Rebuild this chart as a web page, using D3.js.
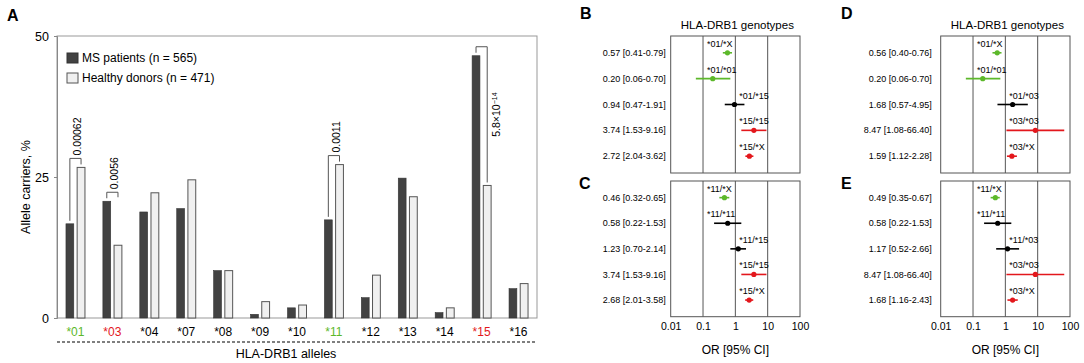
<!DOCTYPE html>
<html>
<head>
<meta charset="utf-8">
<script src="https://cdn.jsdelivr.net/npm/d3@7"></script>
<style>
  body { margin: 0; background: #fff; }
  svg { font-family: "Liberation Sans", Arial, sans-serif; }
</style>
</head>
<body>
<svg id="chart" width="1084" height="363"></svg>
<script>
// ---- panel A data ----
const alleles = ["*01", "*03", "*04", "*07", "*08", "*09", "*10", "*11", "*12", "*13", "*14", "*15", "*16"];
const msPatients = [16.7, 20.7, 18.8, 19.4, 8.4, 0.65, 1.8, 17.4, 3.6, 24.8, 0.95, 46.5, 5.2];
const healthyDonors = [26.7, 12.9, 22.2, 24.5, 8.4, 2.9, 2.3, 27.2, 7.6, 21.5, 1.8, 23.5, 6.1];
const protectiveAlleles = ["*01", "*11"];
const riskAlleles = ["*03", "*15"];
const yTicks = [0, 25, 50];
const pAlleles = ["*01", "*03", "*11", "*15"];
const pValues = ["0.00062", "0.0056", "0.0011", "5.8×10|-14"];

// ---- panels B-E data ----
const genoB = ["*01/*X", "*01/*01", "*01/*15", "*15/*15", "*15/*X"];
const orB = [0.57, 0.20, 0.94, 3.74, 2.72];
const loB = [0.41, 0.06, 0.47, 1.53, 2.04];
const hiB = [0.79, 0.70, 1.91, 9.16, 3.62];
const effB = ["protective", "protective", "neutral", "risk", "risk"];

const genoC = ["*11/*X", "*11/*11", "*11/*15", "*15/*15", "*15/*X"];
const orC = [0.46, 0.58, 1.23, 3.74, 2.68];
const loC = [0.32, 0.22, 0.70, 1.53, 2.01];
const hiC = [0.65, 1.53, 2.14, 9.16, 3.58];
const effC = ["protective", "neutral", "neutral", "risk", "risk"];

const genoD = ["*01/*X", "*01/*01", "*01/*03", "*03/*03", "*03/*X"];
const orD = [0.56, 0.20, 1.68, 8.47, 1.59];
const loD = [0.40, 0.06, 0.57, 1.08, 1.12];
const hiD = [0.76, 0.70, 4.95, 66.40, 2.28];
const effD = ["protective", "protective", "neutral", "risk", "risk"];

const genoE = ["*11/*X", "*11/*11", "*11/*03", "*03/*03", "*03/*X"];
const orE = [0.49, 0.58, 1.17, 8.47, 1.68];
const loE = [0.35, 0.22, 0.52, 1.08, 1.16];
const hiE = [0.67, 1.53, 2.66, 66.40, 2.43];
const effE = ["protective", "neutral", "neutral", "risk", "risk"];

const orTicks = [0.01, 0.1, 1, 10, 100];

const green = "#5cb82a", red = "#e3171c";
const effColor = { protective: green, risk: red, neutral: "#000" };

const svg = d3.select("#chart");

// ================= Panel A =================
const A = { left: 57, right: 537, top: 36, bottom: 318 };

const x0 = d3.scaleBand().domain(alleles).range([A.left, A.right]);
const x1 = d3.scaleBand().domain(["ms", "hd"])
    .range([x0.bandwidth() / 2 - 9.5, x0.bandwidth() / 2 + 9.5])
    .paddingInner(0.3);
const y = d3.scaleLinear().domain([0, 50]).range([A.bottom, A.top]);

svg.append("text").attr("x", 7).attr("y", 21)
    .style("font-size", "16px").style("font-weight", "bold").text("A");

// frame
svg.append("rect")
    .attr("x", A.left).attr("y", A.top)
    .attr("width", A.right - A.left).attr("height", A.bottom - A.top)
    .attr("fill", "none").attr("stroke", "#999").attr("stroke-width", 1);

// y axis
let yAxis = svg.append("g")
    .attr("transform", "translate(" + A.left + ",0)")
    .call(d3.axisLeft(y).tickValues(yTicks).tickSize(3).tickPadding(5));
yAxis.select(".domain").attr("stroke", "#888");
yAxis.selectAll(".tick line").attr("stroke", "#888");
yAxis.selectAll("text").style("font-size", "12.5px").attr("fill", "#000");

svg.append("text")
    .attr("transform", "translate(30," + ((A.top + A.bottom) / 2 + 10) + ") rotate(-90)")
    .attr("text-anchor", "middle")
    .style("font-size", "12.5px")
    .text("Allele carriers, %");

// bars
let groups = svg.append("g").selectAll("g")
    .data(alleles)
    .join("g")
    .attr("transform", d => "translate(" + x0(d) + ",0)");

groups.append("rect")
    .attr("x", x1("ms")).attr("width", x1.bandwidth())
    .attr("y", (d, i) => y(msPatients[i]))
    .attr("height", (d, i) => y(0) - y(msPatients[i]))
    .attr("fill", "#424242").attr("stroke", "#333").attr("stroke-width", 0.6);

groups.append("rect")
    .attr("x", x1("hd")).attr("width", x1.bandwidth())
    .attr("y", (d, i) => y(healthyDonors[i]))
    .attr("height", (d, i) => y(0) - y(healthyDonors[i]))
    .attr("fill", "#f0f0f0").attr("stroke", "#555").attr("stroke-width", 1);

// x axis labels
let xAxis = svg.append("g")
    .attr("transform", "translate(0," + A.bottom + ")")
    .call(d3.axisBottom(x0).tickSize(0).tickPadding(9));
xAxis.select(".domain").remove();
xAxis.selectAll("text")
    .style("font-size", "12px")
    .attr("fill", d => protectiveAlleles.includes(d) ? green : riskAlleles.includes(d) ? red : "#000");

svg.append("line")
    .attr("x1", A.left).attr("x2", A.right - 2)
    .attr("y1", 342).attr("y2", 342)
    .attr("stroke", "#000").attr("stroke-width", 1.2)
    .attr("stroke-dasharray", "3,2");

svg.append("text")
    .attr("x", 286).attr("y", 358)
    .attr("text-anchor", "middle")
    .style("font-size", "12.5px")
    .text("HLA-DRB1 alleles");

// legend
const legendItems = ["MS patients (n = 565)", "Healthy donors (n = 471)"];
let legend = svg.append("g").selectAll("g")
    .data(legendItems)
    .join("g")
    .attr("transform", (d, i) => "translate(67," + (53 + i * 20) + ")");
legend.append("rect")
    .attr("width", 11).attr("height", 10)
    .attr("fill", (d, i) => i === 0 ? "#424242" : "#f0f0f0")
    .attr("stroke", (d, i) => i === 0 ? "#333" : "#555");
legend.append("text")
    .attr("x", 15).attr("y", 5).attr("dy", "0.35em")
    .style("font-size", "12px")
    .text(d => d);

// significance brackets
pAlleles.forEach((a, k) => {
    let i = alleles.indexOf(a);
    let xa = x0(a) + x1("ms") + x1.bandwidth() / 2;
    let xb = x0(a) + x1("hd") + x1.bandwidth() / 2;
    let ya = y(msPatients[i]), yb = y(healthyDonors[i]);
    let top = Math.min(ya, yb) - 9;
    let endA = ya - 3, endB = yb - 3;
    if (yb > ya && k === 1) endB = top + 5;
    svg.append("path")
        .attr("d", "M" + xa + "," + endA + "V" + top + "H" + xb + "V" + endB)
        .attr("fill", "none").attr("stroke", "#555").attr("stroke-width", 1);

    let parts = pValues[k].split("|");
    let side = top - 50 < A.top;
    let tx, ty;
    if (side) {
        tx = xb + 13;
        ty = (top + endB) / 2;
    } else {
        tx = (xa + xb) / 2 + 6;
        ty = top - 3;
    }
    let t = svg.append("text")
        .attr("transform", "translate(" + tx + "," + ty + ") rotate(-90)")
        .attr("text-anchor", side ? "middle" : "start")
        .style("font-size", "10.5px")
        .text(parts[0]);
    if (parts[1]) {
        t.append("tspan").attr("dy", "-0.45em").style("font-size", "7px").text(parts[1].replace("-", "−"));
    }
});

// ================= Forest panels =================
function forest(cfg) {
    let x = d3.scaleLog().domain([0.01, 100]).range([cfg.left, cfg.right]);
    let rows = d3.scalePoint().domain(d3.range(cfg.geno.length))
        .range([cfg.top, cfg.bottom]).padding(0.65);
    let g = svg.append("g");

    g.append("text").attr("x", cfg.letterX).attr("y", cfg.letterY)
        .style("font-size", "16px").style("font-weight", "bold").text(cfg.letter);

    if (cfg.title) {
        g.append("text")
            .attr("x", (cfg.left + cfg.right) / 2 + 2).attr("y", cfg.top - 7)
            .attr("text-anchor", "middle")
            .style("font-size", "11.5px")
            .text("HLA-DRB1 genotypes");
    }

    g.append("rect")
        .attr("x", cfg.left).attr("y", cfg.top)
        .attr("width", cfg.right - cfg.left).attr("height", cfg.bottom - cfg.top)
        .attr("fill", "none").attr("stroke", "#555");

    g.selectAll(".grid")
        .data(orTicks.slice(1, -1))
        .join("line")
        .attr("x1", d => x(d)).attr("x2", d => x(d))
        .attr("y1", cfg.top).attr("y2", cfg.bottom)
        .attr("stroke", "#555");

    if (cfg.axis) {
        let ax = g.append("g")
            .attr("transform", "translate(0," + cfg.bottom + ")")
            .call(d3.axisBottom(x).tickValues(orTicks).tickFormat(d => String(d)).tickSize(0).tickPadding(6));
        ax.select(".domain").remove();
        ax.selectAll("text").style("font-size", "10.5px").attr("fill", "#000");
        g.append("text")
            .attr("x", (cfg.left + cfg.right) / 2).attr("y", cfg.bottom + 37)
            .attr("text-anchor", "middle")
            .style("font-size", "12px")
            .text("OR [95% CI]");
    }

    cfg.geno.forEach((d, i) => {
        let yy = rows(i);
        let col = effColor[cfg.eff[i]];
        g.append("text")
            .attr("x", cfg.left - cfg.gap).attr("y", yy).attr("dy", "0.35em")
            .attr("text-anchor", "end")
            .style("font-size", "9px")
            .text(cfg.or[i].toFixed(2) + " [" + cfg.lo[i].toFixed(2) + "-" + cfg.hi[i].toFixed(2) + "]");
        g.append("line")
            .attr("x1", x(cfg.lo[i])).attr("x2", x(cfg.hi[i]))
            .attr("y1", yy).attr("y2", yy)
            .attr("stroke", col).attr("stroke-width", 1.6);
        g.append("circle")
            .attr("cx", x(cfg.or[i])).attr("cy", yy).attr("r", 2.6)
            .attr("fill", col);
        g.append("text")
            .attr("x", x(cfg.or[i] < 0.9 ? 0.1 : 1) + 4).attr("y", yy - 6)
            .style("font-size", "9px")
            .text(d);
    });
}

forest({ letter: "B", letterX: 580, letterY: 19, title: true, axis: false, gap: 5,
    left: 670.7, right: 800, top: 36, bottom: 173, geno: genoB, or: orB, lo: loB, hi: hiB, eff: effB });
forest({ letter: "C", letterX: 579, letterY: 189, title: false, axis: true, gap: 5,
    left: 670.7, right: 800, top: 181, bottom: 316.7, geno: genoC, or: orC, lo: loC, hi: hiC, eff: effC });
forest({ letter: "D", letterX: 841, letterY: 19, title: true, axis: false, gap: 9,
    left: 940.7, right: 1070, top: 36, bottom: 173, geno: genoD, or: orD, lo: loD, hi: hiD, eff: effD });
forest({ letter: "E", letterX: 841, letterY: 189, title: false, axis: true, gap: 9,
    left: 940.7, right: 1070, top: 181, bottom: 316.7, geno: genoE, or: orE, lo: loE, hi: hiE, eff: effE });
</script>
</body>
</html>
